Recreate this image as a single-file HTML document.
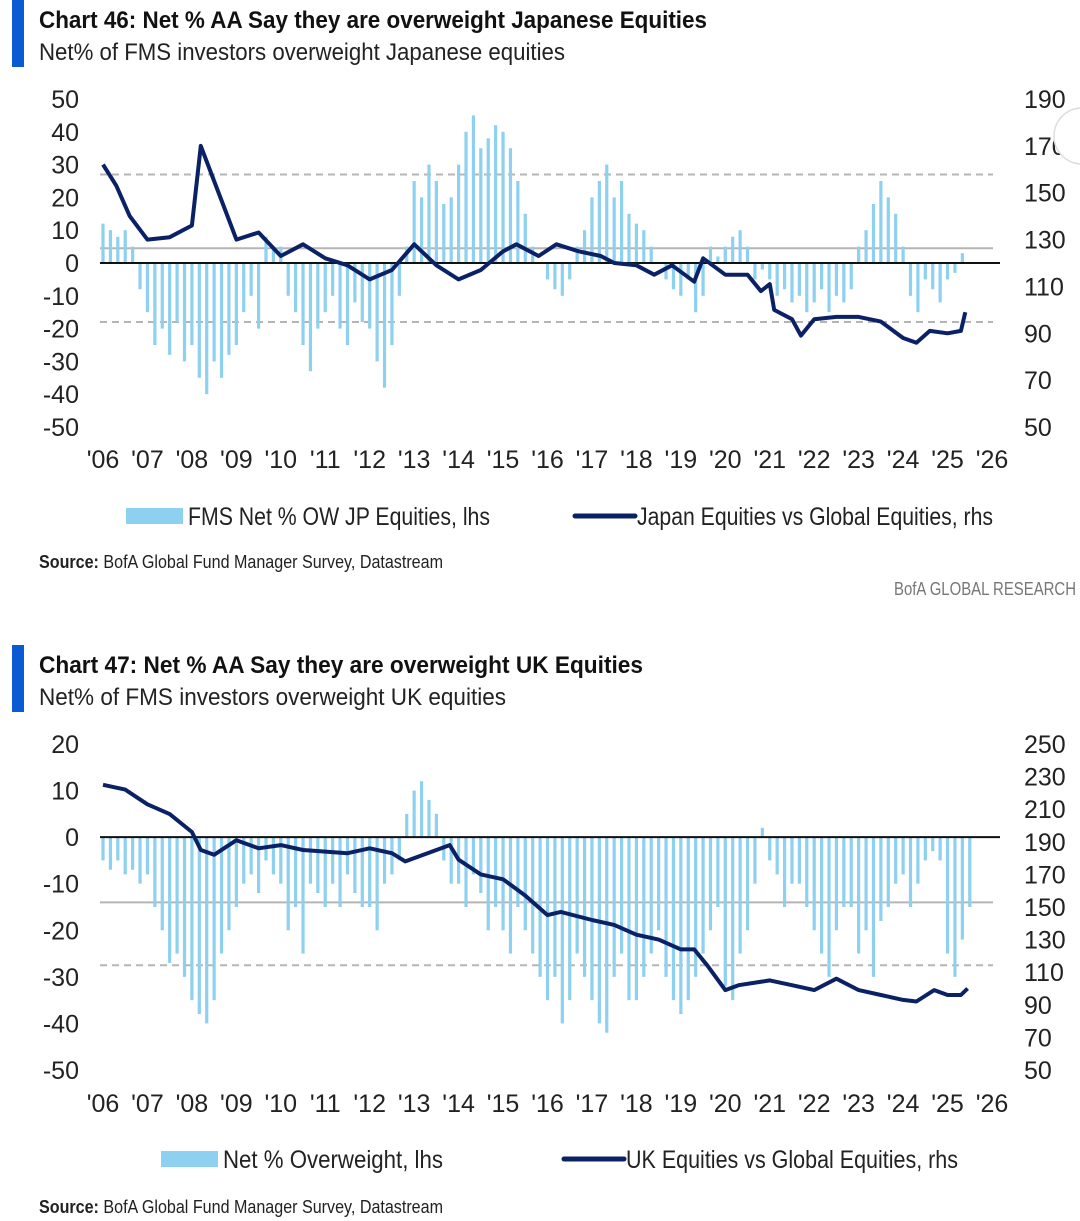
<!DOCTYPE html>
<html><head><meta charset="utf-8"><style>
body{margin:0;background:#fff;width:1080px;height:1221px;overflow:hidden;font-family:"Liberation Sans Narrow","Liberation Sans",sans-serif;}
svg{position:absolute;left:0;top:0}
</style></head><body>
<svg id="s" width="1080" height="1221" xmlns="http://www.w3.org/2000/svg"></svg>
<script>
const years=['\'06','\'07','\'08','\'09','\'10','\'11','\'12','\'13','\'14','\'15','\'16','\'17','\'18','\'19','\'20','\'21','\'22','\'23','\'24','\'25','\'26'];
const jpLeftTicks=[50,40,30,20,10,0,-10,-20,-30,-40,-50];
const jpRightTicks=[190,170,150,130,110,90,70,50];
const ukLeftTicks=[20,10,0,-10,-20,-30,-40,-50];
const ukRightTicks=[250,230,210,190,170,150,130,110,90,70,50];
const jpBars=[12,10,8,10,5,-8,-15,-25,-20,-28,-18,-30,-25,-35,-40,-30,-35,-28,-25,-15,-10,-20,8,5,5,-10,-15,-25,-33,-20,-15,-10,-20,-25,-12,-18,-20,-30,-38,-25,-10,5,25,20,30,25,18,20,30,40,45,35,38,42,40,35,25,15,5,0,-5,-8,-10,-5,5,10,20,25,30,20,25,15,12,10,5,0,-5,-8,-10,-5,-15,-10,5,2,5,8,10,5,-5,-2,-5,-10,-8,-12,-10,-15,-12,-8,-15,-10,-12,-8,5,10,18,25,20,15,5,-10,-15,-5,-8,-12,-5,-3,3,0];
const jpLineYears=[2006,2006.3,2006.6,2007,2007.5,2008,2008.2,2008.5,2008.8,2009,2009.5,2010,2010.5,2011,2011.5,2012,2012.5,2013,2013.5,2014,2014.5,2015,2015.3,2015.8,2016.2,2016.7,2017.2,2017.5,2018,2018.4,2018.8,2019.3,2019.5,2020,2020.5,2020.8,2021,2021.1,2021.5,2021.7,2022,2022.5,2023,2023.5,2024,2024.3,2024.6,2025,2025.3,2025.4];
const jpLineValues=[162,153,140,130,131,136,170,155,140,130,133,123,128,122,119,113,117,128,119,113,117,125,128,123,128,125,123,120,119,115,119,112,122,115,115,108,111,100,96,89,96,97,97,95,88,86,91,90,91,99];
const ukBars=[-5,-7,-5,-8,-7,-10,-8,-15,-20,-27,-25,-30,-35,-38,-40,-35,-25,-20,-15,-10,-8,-12,-5,-8,-10,-20,-15,-25,-10,-12,-15,-10,-15,-8,-12,-15,-15,-20,-10,-8,-5,5,10,12,8,5,-5,-10,-10,-15,-8,-12,-20,-15,-20,-25,-15,-20,-25,-30,-35,-30,-40,-35,-25,-30,-35,-40,-42,-30,-25,-35,-35,-30,-25,-20,-30,-35,-38,-35,-30,-25,-20,-15,-32,-35,-25,-20,-10,2,-5,-8,-15,-10,-10,-15,-20,-25,-30,-20,-15,-15,-25,-20,-30,-18,-15,-10,-8,-15,-10,-5,-3,-5,-25,-30,-22,-15];
const ukLineYears=[2006,2006.5,2007,2007.5,2008,2008.2,2008.5,2009,2009.5,2010,2010.5,2011,2011.5,2012,2012.5,2012.8,2013,2013.5,2013.8,2014,2014.5,2015,2015.5,2016,2016.3,2017,2017.5,2018,2018.5,2019,2019.3,2019.6,2020,2020.3,2021,2021.5,2022,2022.5,2023,2023.5,2024,2024.3,2024.7,2025,2025.3,2025.45];
const ukLineValues=[225,222,213,207,196,185,182,191,186,188,185,184,183,186,183,178,180,185,188,179,170,167,157,145,147,142,139,133,130,124,124,114,99,102,105,102,99,106,99,96,93,92,99,96,96,100];

const S=document.getElementById('s');const NS='http://www.w3.org/2000/svg';
function mk(t,a,txt){const e=document.createElementNS(NS,t);for(const k in a)e.setAttribute(k,a[k]);if(txt!==undefined)e.textContent=txt;S.appendChild(e);return e;}
const X=y=>103+(y-2006)*44.45;
const FONT='"Liberation Sans Narrow","Liberation Sans",sans-serif';

function header(y0,title,sub,tw,sw){
  let e=mk('rect',{x:12,y:y0,width:12,height:67,fill:'#0a5bd3'});
  
  e=mk('text',{x:39,y:y0+28,'font-size':24,'font-weight':'bold','font-family':FONT,fill:'#111',textLength:tw,lengthAdjust:'spacingAndGlyphs'},title);
  
  e=mk('text',{x:39,y:y0+60,'font-size':24,'font-family':FONT,fill:'#222',textLength:sw,lengthAdjust:'spacingAndGlyphs'},sub);
  
}
function chart(c){
  const L=v=>c.l0+(c.lMax-v)*(c.l1-c.l0)/(c.lMax-c.lMin);
  const R=v=>c.l0+(c.rMax-v)*(c.l1-c.l0)/(c.rMax-c.rMin);
  let e;
  c.lt.forEach(v=>{e=mk('text',{x:79,y:L(v)+9,'text-anchor':'end','font-size':25,'font-family':FONT,fill:'#222'},v);
    });
  c.rt.forEach(v=>{e=mk('text',{x:1024,y:R(v)+9,'font-size':25,'font-family':FONT,fill:'#222'},v);
    });
  years.forEach((t,i)=>{e=mk('text',{x:X(2006+i),y:c.xl,'text-anchor':'middle','font-size':25,'font-family':FONT,fill:'#222'},t);
    });
  c.ref.forEach(r=>{e=mk('line',{x1:100,x2:993,y1:L(r[0]),y2:L(r[0]),stroke:'#b5b5b5','stroke-width':2,'stroke-dasharray':r[1]?'7,5':'none'});
    });
  c.bars.forEach((v,i)=>{const x=X(2006+i/6);const y0=L(0),y1=L(v);
    e=mk('rect',{x:x-1.6,y:Math.min(y0,y1),width:3.2,height:Math.abs(y1-y0),fill:'#8dd0ef'});
    });
  e=mk('line',{x1:100,x2:1000,y1:L(0),y2:L(0),stroke:'#111','stroke-width':2});
  
  const d=c.ly.map((y,i)=>(i?'L':'M')+X(y).toFixed(1)+','+R(c.lv[i]).toFixed(1)).join(' ');
  e=mk('path',{d:d,fill:'none',stroke:'#0b2166','stroke-width':4,'stroke-linejoin':'round'});
  
  e=mk('rect',{x:c.lg[0],y:c.lgy-8,width:57,height:16,fill:'#8dd0ef'});
  
  e=mk('text',{x:c.lg[0]+62,y:c.lgy+9,'font-size':25,'font-family':FONT,fill:'#222',textLength:c.lw[0],lengthAdjust:'spacingAndGlyphs'},c.lt1);
  
  e=mk('line',{x1:c.lg[1],x2:c.lg[1]+60,y1:c.lgy,y2:c.lgy,stroke:'#0b2166','stroke-width':5,'stroke-linecap':'round'});
  
  e=mk('text',{x:c.lg[1]+62,y:c.lgy+9,'font-size':25,'font-family':FONT,fill:'#222',textLength:c.lw[1],lengthAdjust:'spacingAndGlyphs'},c.lt2);
  
  e=mk('text',{x:39,y:c.src,'font-size':18,'font-family':FONT,fill:'#222',textLength:404,lengthAdjust:'spacingAndGlyphs'});
  
  e.innerHTML='<tspan font-weight="bold">Source: </tspan>BofA Global Fund Manager Survey, Datastream';
}
header(0,'Chart 46: Net % AA Say they are overweight Japanese Equities','Net% of FMS investors overweight Japanese equities',668,526);
chart({l0:99,l1:427,lMax:50,lMin:-50,rMax:190,rMin:50,lt:jpLeftTicks,rt:jpRightTicks,xl:468,ref:[[27,1],[-18,1],[4.5,0]],bars:jpBars,ly:jpLineYears,lv:jpLineValues,lg:[126,575],lgy:516,lw:[302,356],lt1:'FMS Net % OW JP Equities, lhs',lt2:'Japan Equities vs Global Equities, rhs',src:568});
let b=mk('text',{x:894,y:595,'font-size':18,'font-family':FONT,fill:'#777',textLength:182,lengthAdjust:'spacingAndGlyphs'},'BofA GLOBAL RESEARCH');

header(645,'Chart 47: Net % AA Say they are overweight UK Equities','Net% of FMS investors overweight UK equities',604,467);
chart({l0:744,l1:1070,lMax:20,lMin:-50,rMax:250,rMin:50,lt:ukLeftTicks,rt:ukRightTicks,xl:1112,ref:[[-14,0],[-27.5,1]],bars:ukBars,ly:ukLineYears,lv:ukLineValues,lg:[161,564],lgy:1159,lw:[220,332],lt1:'Net % Overweight, lhs',lt2:'UK Equities vs Global Equities, rhs',src:1213});
b=mk('circle',{cx:1082,cy:136,r:28,fill:'#fff',stroke:'#ddd','stroke-width':1.5});

</script>
</body></html>
